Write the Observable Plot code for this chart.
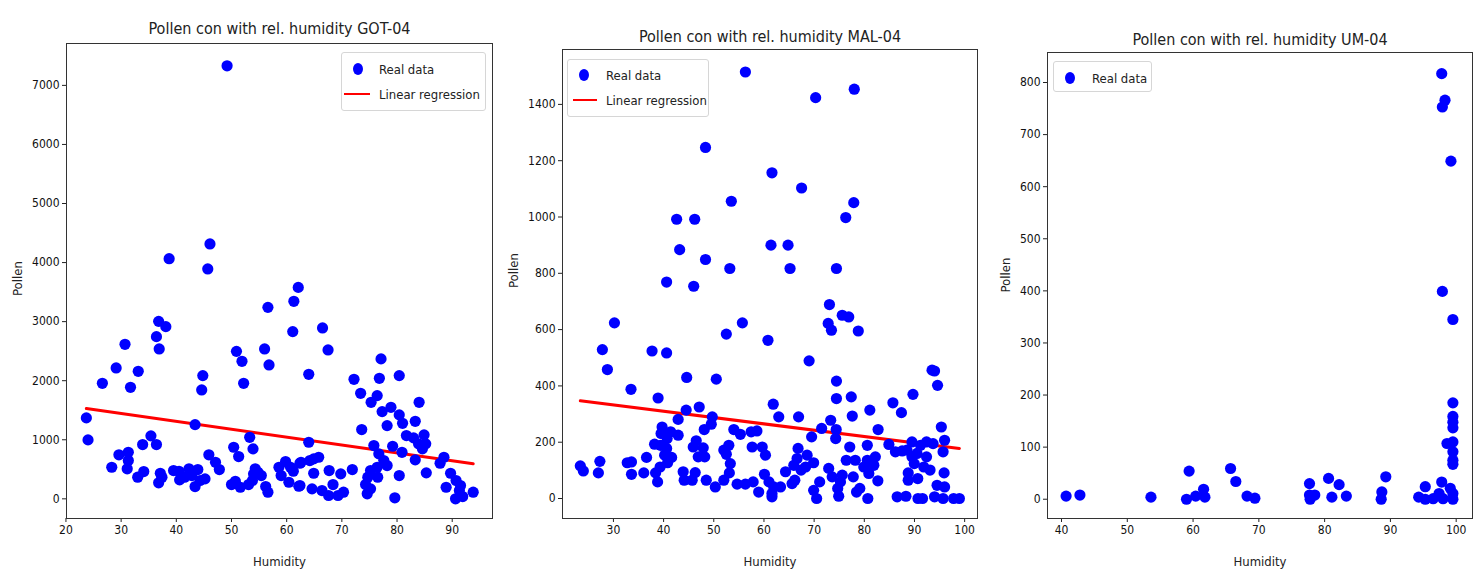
<!DOCTYPE html>
<html><head><meta charset="utf-8">
<script src="https://cdn.jsdelivr.net/npm/d3@7"></script>
<script src="https://cdn.jsdelivr.net/npm/@observablehq/plot@0.6"></script>
<style>
html,body{margin:0;padding:0;background:#fff;}
body{width:1478px;height:573px;overflow:hidden;position:relative;font-family:"DejaVu Sans Condensed","DejaVu Sans",sans-serif;}
.panel{position:absolute;top:0;}
.legend{position:absolute;background:#fff;border:1px solid #d6d6d6;border-radius:3px;font-size:13px;color:#222;box-sizing:border-box;}
.legend .dot{position:absolute;width:10px;height:12px;border-radius:50%;background:#0000ff;transform:translate(-50%,-50%);}
.legend .ln{position:absolute;height:2px;background:#ff0000;transform:translateY(-50%);}
.legend .tx{position:absolute;transform:translateY(-50%);white-space:nowrap;line-height:1;}
</style>
</head><body>
<script>
// ---------- Data ----------
const gotHumidity = [49.2,46.1,38.7,45.7,62.1,61.3,61.1,56.6,56.0,56.8,50.9,51.9,52.2,44.8,44.6,36.8,38.1,36.4,36.9,30.7,29.1,33.1,26.6,31.7,23.7,24.0,43.4,35.4,36.4,33.9,31.3,29.6,31.3,31.1,28.3,34.1,33.0,37.1,36.8,37.4,39.5,40.5,40.6,41.5,42.3,42.8,43.4,43.9,44.3,45.2,45.9,47.1,47.8,50.4,51.3,50.0,50.7,51.6,53.3,53.9,54.3,54.0,54.8,55.4,53.8,53.1,56.2,56.6,58.6,59.0,59.8,60.7,61.2,60.4,62.4,62.2,66.5,67.5,64.0,72.2,73.4,75.3,76.4,76.8,77.1,80.4,77.3,78.9,78.2,80.4,81.0,84.0,83.3,81.7,83.0,84.9,85.2,84.6,83.9,83.3,73.6,75.8,64.0,79.2,80.9,76.7,77.6,78.2,76.4,75.2,74.7,74.3,74.6,75.2,76.5,71.9,69.8,67.7,64.9,62.6,64.2,64.9,65.8,62.4,64.6,66.4,67.6,68.4,69.3,70.3,80.4,79.6,85.3,88.5,87.8,89.7,88.9,90.7,91.5,90.6,91.9,93.8,91.3];
const gotPollen = [7331,4315,4066,3892,3580,3344,2831,3242,2538,2267,2497,2328,1956,2086,1844,3005,2915,2746,2538,2616,2216,2159,1956,1888,1370,998,1257,1066,919,919,789,745,648,508,535,462,366,433,271,366,479,467,321,366,508,394,208,496,310,338,745,619,496,873,716,242,298,196,1042,846,508,423,450,394,310,242,208,112,535,394,631,535,467,281,602,213,2893,2521,2108,2024,1787,1634,1748,2041,2369,2086,1477,1550,1240,1421,1279,1634,1313,1071,1032,1083,931,846,931,660,1173,902,958,890,788,761,648,563,535,479,366,242,85,169,366,496,423,479,433,619,648,677,704,225,169,140,56,242,56,112,394,17,440,704,602,433,196,310,225,0,39,112,140];
const gotRegHumidity = [23.7, 93.8];
const gotRegPollen = [1528, 595];

const malHumidity = [56.3,48.35,61.6,53.5,42.6,46.2,61.4,43.2,48.35,53.2,40.6,46.0,78.0,70.3,67.5,77.9,76.3,64.8,65.2,74.45,30.2,27.8,28.8,37.7,40.6,44.6,50.5,52.5,55.7,60.8,33.5,38.9,44.5,47.1,42.9,49.7,49.5,61.85,39.7,41.4,39.5,40.7,42.9,38.2,39.4,40.6,40.2,41.6,40.8,36.6,39.3,38.4,38.8,36.05,32.75,33.6,33.6,27.3,27.0,23.4,24.0,46.5,45.9,47.9,48.2,46.9,48.1,43.9,44.1,45.7,46.3,48.5,50.3,52.0,52.0,53.0,52.5,53.3,53.1,54.0,55.3,54.65,56.3,57.85,58.95,57.45,58.6,57.65,59.65,60.3,60.1,61.0,61.6,61.95,62.95,73.05,75.6,76.9,72.8,73.45,78.8,69.0,74.45,74.45,77.4,77.6,81.1,66.9,73.3,71.5,74.4,74.3,69.5,82.75,85.7,87.4,89.7,93.5,94.0,94.6,95.35,96.0,95.7,95.9,96.0,94.5,94.0,95.7,97.8,98.95,90.7,91.6,88.3,86.55,93.7,92.4,91.2,89.5,88.5,87.55,86.2,84.9,90.5,89.5,92.4,89.95,91.85,93.1,88.75,88.75,90.65,80.6,80.6,82.2,81.9,79.9,80.9,82.7,80.7,77.1,76.4,78.2,77.8,79.1,78.45,75.6,75.25,74.7,74.9,73.6,72.9,69.9,68.6,66.8,66.6,65.95,67.4,68.3,64.3,65.6,66.15,69.9,70.5,71.1,61.6,63.3];
const malPollen = [1515,1247,1157,1056,992,992,900,884,849,817,769,754,1454,1424,1103,1051,998,900,817,817,624,529,458,524,517,430,424,584,624,562,388,357,314,325,281,290,264,335,254,237,231,213,225,193,189,178,154,146,127,146,112,91,59,91,127,130,86,132,91,116,98,205,183,180,148,148,245,95,65,65,92,65,41,65,172,189,157,124,91,245,228,51,51,59,23,237,240,183,183,154,86,59,18,41,290,689,651,645,622,598,595,489,417,355,361,293,314,290,278,249,245,213,219,245,340,305,370,456,453,402,254,207,166,91,41,47,6,0,0,0,0,0,8,6,195,201,189,201,172,169,166,192,160,148,148,124,112,101,91,65,71,189,136,148,118,112,89,63,0,183,136,136,77,36,23,83,59,36,8,77,107,127,154,178,142,118,101,112,95,53,65,29,0,59,6,41];
const malRegHumidity = [23.4, 98.95];
const malRegPollen = [347, 178];

const umHumidity = [40.7,42.8,53.6,59.0,59.4,60.4,61.6,61.8,65.7,66.5,68.2,69.4,77.7,77.7,77.8,78.5,80.6,82.2,81.1,83.3,89.3,88.7,88.6,94.3,95.3,95.3,96.5,97.8,97.4,98.0,99.1,99.5,99.5,98.6,99.5,99.5,99.5,99.5,99.5,99.5,99.5,99.5,99.5,97.9,97.8,98.3,97.9,99.2];
const umPollen = [6,8,4,0,54,6,19,4,59,34,6,2,30,8,0,8,40,28,4,6,43,14,0,4,24,0,1,33,11,1,21,11,0,107,110,91,75,67,185,159,148,137,345,399,817,766,753,649];

const titles = ["Pollen con with rel. humidity GOT-04","Pollen con with rel. humidity MAL-04","Pollen con with rel. humidity UM-04"];
const xLabel = "Humidity";
const yLabel = "Pollen";
const gotXTicks = [20,30,40,50,60,70,80,90];
const gotYTicks = [0,1000,2000,3000,4000,5000,6000,7000];
const malXTicks = [30,40,50,60,70,80,90,100];
const malYTicks = [0,200,400,600,800,1000,1200,1400];
const umXTicks = [40,50,60,70,80,90,100];
const umYTicks = [0,100,200,300,400,500,600,700,800];
const legendRealLabel = "Real data";
const legendRegLabel = "Linear regression";

// ---------- Drawing ----------
const FONT = '"DejaVu Sans Condensed","DejaVu Sans",sans-serif';
function panel(o){
  const rows = o.hum.map((h,i)=>({h, p:o.pol[i]}));
  const reg = (o.regH||[]).map((h,i)=>({h, p:o.regP[i]}));
  const marks = [
    Plot.axisX({ticks:o.xTicks, tickSize:4, tickPadding:3, label:null, tickFormat:d=>String(d), fontSize:12, fill:"#111"}),
    Plot.axisY({ticks:o.yTicks, tickSize:4, tickPadding:3, label:null, tickFormat:d=>String(d), fontSize:12, fill:"#111"}),
  ];
  if (reg.length) marks.push(Plot.line(reg,{x:"h",y:"p",stroke:"#ff0000",strokeWidth:3}));
  marks.push(Plot.dot(rows,{x:"h",y:"p",r:5.6,fill:"#0000ff",stroke:"none"}));
  marks.push(Plot.frame({stroke:"#333",strokeWidth:1}));
  marks.push(Plot.text([o.title],{frameAnchor:"top",dy:o.titleDy,fontSize:16,fill:"#222",text:d=>d}));
  marks.push(Plot.text([xLabel],{frameAnchor:"bottom",dy:47,fontSize:13,fill:"#222",text:d=>d}));
  marks.push(Plot.text([yLabel],{frameAnchor:"left",dx:o.ylabDx,dy:o.ylabDy,rotate:-90,fontSize:13,fill:"#222",text:d=>d}));
  const svg = Plot.plot({
    width:o.width, height:573,
    marginLeft:o.ml, marginRight:o.mr, marginTop:o.mt, marginBottom:55,
    x:{domain:o.xDomain}, y:{domain:o.yDomain},
    style:{fontFamily:FONT, background:"transparent", color:"#222", overflow:"visible"},
    marks
  });
  const div = document.createElement("div");
  div.className = "panel";
  div.style.left = o.left + "px";
  div.appendChild(svg);
  document.body.appendChild(div);
}
function legend(o){
  const box = document.createElement("div");
  box.className = "legend";
  Object.assign(box.style,{left:o.left+"px",top:o.top+"px",width:o.w+"px",height:o.h+"px"});
  const dot = document.createElement("div"); dot.className="dot";
  Object.assign(dot.style,{left:o.dotX+"px",top:o.row1+"px"}); box.appendChild(dot);
  const t1 = document.createElement("div"); t1.className="tx"; t1.textContent=legendRealLabel;
  Object.assign(t1.style,{left:o.textX+"px",top:o.row1+"px"}); box.appendChild(t1);
  if (o.row2){
    const ln = document.createElement("div"); ln.className="ln";
    Object.assign(ln.style,{left:o.lnX0+"px",width:(o.lnX1-o.lnX0)+"px",top:o.row2+"px"}); box.appendChild(ln);
    const t2 = document.createElement("div"); t2.className="tx"; t2.textContent=legendRegLabel;
    Object.assign(t2.style,{left:o.textX+"px",top:o.row2+"px"}); box.appendChild(t2);
  }
  document.body.appendChild(box);
}

panel({left:0,width:500,ml:66,mr:8,mt:43,hum:gotHumidity,pol:gotPollen,regH:gotRegHumidity,regP:gotRegPollen,
  xDomain:[20.1,97.3],yDomain:[-333,7709],xTicks:gotXTicks,yTicks:gotYTicks,title:titles[0],titleDy:-21,ylabDx:-49,ylabDy:15});
panel({left:500,width:485,ml:62,mr:8,mt:49,hum:malHumidity,pol:malPollen,regH:malRegHumidity,regP:malRegPollen,
  xDomain:[19.85,102.56],yDomain:[-71,1595],xTicks:malXTicks,yTicks:malYTicks,title:titles[1],titleDy:-19,ylabDx:-49,ylabDy:4});
panel({left:985,width:493,ml:62,mr:6,mt:52,hum:umHumidity,pol:umPollen,
  xDomain:[37.87,102.48],yDomain:[-37,857.6],xTicks:umXTicks,yTicks:umYTicks,title:titles[2],titleDy:-19,ylabDx:-42,ylabDy:7});

legend({left:341,top:52,w:145,h:59,dotX:16,row1:16,textX:37,lnX0:2,lnX1:28,row2:41});
legend({left:567,top:59,w:142,h:58,dotX:16,row1:15,textX:38,lnX0:5,lnX1:29,row2:40});
legend({left:1053,top:61,w:99,h:31,dotX:16,row1:16,textX:38});
</script>
</body></html>
